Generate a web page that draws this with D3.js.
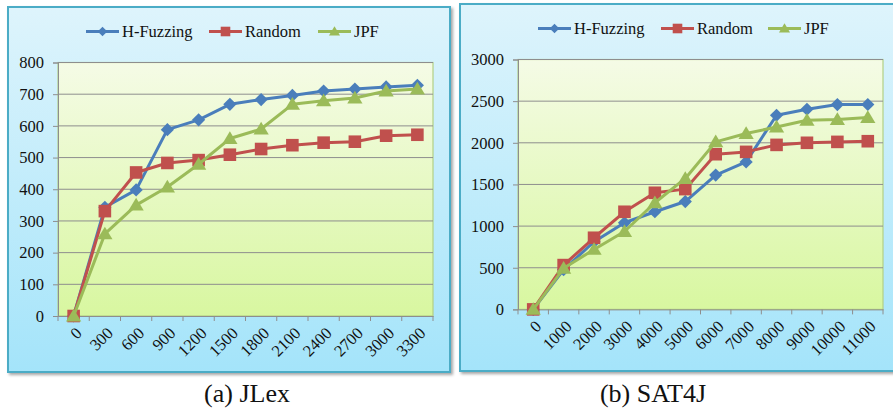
<!DOCTYPE html>
<html>
<head>
<meta charset="utf-8">
<script src="https://cdn.jsdelivr.net/npm/d3@7"></script>
<style>
  html, body { margin: 0; padding: 0; background: #fff; }
  svg { display: block; }
</style>
</head>
<body>
<script>
// (a) JLex
const jlexCats = ["0", "300", "600", "900", "1200", "1500", "1800", "2100", "2400", "2700", "3000", "3300"];
const jlexHFuzzing = [0, 343, 398, 588, 619, 668, 683, 696, 710, 716, 723, 728];
const jlexRandom = [0, 331, 453, 483, 492, 509, 527, 539, 547, 550, 569, 572];
const jlexJPF = [0, 259, 350, 407, 479, 560, 590, 668, 679, 688, 710, 716];
const jlexTicks = [0, 100, 200, 300, 400, 500, 600, 700, 800];

// (b) SAT4J
const satCats = ["0", "1000", "2000", "3000", "4000", "5000", "6000", "7000", "8000", "9000", "10000", "11000"];
const satHFuzzing = [0, 478, 812, 1040, 1172, 1295, 1612, 1771, 2331, 2403, 2459, 2460];
const satRandom = [0, 532, 860, 1172, 1400, 1444, 1863, 1891, 1975, 2000, 2011, 2019];
const satJPF = [0, 493, 720, 935, 1280, 1572, 2011, 2111, 2190, 2271, 2279, 2303];
const satTicks = [0, 500, 1000, 1500, 2000, 2500, 3000];

const seriesNames = ["H-Fuzzing", "Random", "JPF"];
const seriesColors = ["#4a7ebb", "#c0504d", "#9bbb59"];
const seriesMarkers = ["diamond", "square", "triangle"];

const W = 893, H = 412;
const font = "'Liberation Serif', 'Times New Roman', serif";

const svg = d3.select("body").append("svg").attr("width", W).attr("height", H);
const defs = svg.append("defs");

const bgGrad = defs.append("linearGradient").attr("id", "panelBg")
  .attr("x1", 0).attr("y1", 0).attr("x2", 0).attr("y2", 1);
bgGrad.append("stop").attr("offset", "0%").attr("stop-color", "#def4fc");
bgGrad.append("stop").attr("offset", "100%").attr("stop-color", "#a4e4fa");

const plotGrad = defs.append("linearGradient").attr("id", "plotBg")
  .attr("x1", 0).attr("y1", 0).attr("x2", 0).attr("y2", 1);
plotGrad.append("stop").attr("offset", "0%").attr("stop-color", "#f5fbe6");
plotGrad.append("stop").attr("offset", "100%").attr("stop-color", "#d8f7a0");

const shadow = defs.append("filter").attr("id", "shadow")
  .attr("x", "-5%").attr("y", "-5%").attr("width", "110%").attr("height", "110%");
shadow.append("feDropShadow").attr("dx", 2).attr("dy", 2).attr("stdDeviation", 1.5)
  .attr("flood-color", "#000").attr("flood-opacity", 0.35);

const markerPath = (type, s) => {
  if (type === "diamond") return `M0,${-s}L${s},0L0,${s}L${-s},0Z`;
  if (type === "square") return `M${-s},${-s}H${s}V${s}H${-s}Z`;
  const h = s * 1.1;
  return `M0,${-h}L${h * 1.05},${h * 0.75}L${-h * 1.05},${h * 0.75}Z`;
};

function drawPanel(p) {
  const g = svg.append("g");

  g.append("rect")
    .attr("x", p.box[0]).attr("y", p.box[1])
    .attr("width", p.box[2]).attr("height", p.box[3])
    .attr("fill", "url(#panelBg)")
    .attr("stroke", "#4bacc6").attr("stroke-width", 2)
    .attr("filter", "url(#shadow)");

  const x = d3.scaleBand().domain(p.cats).range([p.plot[0], p.plot[1]]);
  const y = d3.scaleLinear().domain([0, p.yMax]).range([p.plot[3], p.plot[2]]);

  g.append("rect")
    .attr("x", p.plot[0]).attr("y", p.plot[2])
    .attr("width", p.plot[1] - p.plot[0]).attr("height", p.plot[3] - p.plot[2])
    .attr("fill", "url(#plotBg)")
    .attr("stroke", "#b3d186").attr("stroke-width", 1.2);

  // gridlines
  g.append("g").selectAll("line")
    .data(p.ticks.filter(t => t > 0))
    .join("line")
    .attr("x1", p.plot[0]).attr("x2", p.plot[1])
    .attr("y1", d => y(d)).attr("y2", d => y(d))
    .attr("stroke", "#8e8e8e").attr("stroke-width", 1);

  // y axis
  const yAxis = g.append("g")
    .attr("transform", `translate(${p.plot[0]},0)`)
    .call(d3.axisLeft(y).tickValues(p.ticks).tickSize(5).tickPadding(9).tickFormat(d3.format("d")));
  yAxis.select(".domain").attr("stroke", "#8e8e8e");
  yAxis.selectAll(".tick line").attr("stroke", "#8e8e8e");
  yAxis.selectAll("text").attr("font-family", font).attr("font-size", 16.5).attr("fill", "#111");

  // x axis: ticks on band boundaries
  const xAxis = g.append("g")
    .attr("transform", `translate(0,${p.plot[3]})`)
    .call(d3.axisBottom(x).tickSize(0).tickFormat(""));
  xAxis.select(".domain").attr("stroke", "#8e8e8e");
  xAxis.selectAll(".tick").remove();
  const bounds = p.cats.map(c => x(c)).concat([p.plot[1]]);
  xAxis.selectAll("line.bt").data(bounds).join("line")
    .attr("class", "bt")
    .attr("x1", d => d).attr("x2", d => d)
    .attr("y1", 0).attr("y2", 5)
    .attr("stroke", "#8e8e8e");
  xAxis.selectAll("text.lbl").data(p.cats).join("text")
    .attr("class", "lbl")
    .attr("transform", d => `translate(${x(d) + x.bandwidth() / 2 + 5},${14}) rotate(-45)`)
    .attr("text-anchor", "end")
    .attr("dy", "0.35em")
    .attr("font-family", font).attr("font-size", 16.5).attr("fill", "#111")
    .text(d => d);

  const line = d3.line()
    .x((d, i) => x(p.cats[i]) + x.bandwidth() / 2)
    .y(d => y(d));

  p.series.forEach((vals, si) => {
    const sg = g.append("g");
    sg.append("path")
      .attr("d", line(vals))
      .attr("fill", "none")
      .attr("stroke", seriesColors[si])
      .attr("stroke-width", 3)
      .attr("stroke-linejoin", "round");
    sg.selectAll("path.m").data(vals).join("path")
      .attr("class", "m")
      .attr("transform", (d, i) => `translate(${x(p.cats[i]) + x.bandwidth() / 2},${y(d)})`)
      .attr("d", markerPath(seriesMarkers[si], seriesMarkers[si] === "square" ? 6.3 : 6.6))
      .attr("fill", seriesColors[si]);
  });

  // legend
  const lg = g.append("g");
  p.legendX.forEach((lx, si) => {
    lg.append("line")
      .attr("x1", lx).attr("x2", lx + 33)
      .attr("y1", p.legendY).attr("y2", p.legendY)
      .attr("stroke", seriesColors[si]).attr("stroke-width", 3);
    lg.append("path")
      .attr("transform", `translate(${lx + 16.5},${p.legendY})`)
      .attr("d", markerPath(seriesMarkers[si], 4.8))
      .attr("fill", seriesColors[si]);
    lg.append("text")
      .attr("x", lx + 36).attr("y", p.legendY + 5.5)
      .attr("font-family", font).attr("font-size", 16.5).attr("fill", "#111")
      .text(seriesNames[si]);
  });

  // caption
  svg.append("text")
    .attr("x", p.captionX).attr("y", 402)
    .attr("text-anchor", "middle")
    .attr("font-family", font).attr("font-size", 26).attr("fill", "#111")
    .text(p.caption);
}

drawPanel({
  box: [8, 7, 442, 365],
  plot: [58, 433, 62.5, 316],
  cats: jlexCats,
  yMax: 800,
  ticks: jlexTicks,
  series: [jlexHFuzzing, jlexRandom, jlexJPF],
  legendX: [86, 209, 318],
  legendY: 31.5,
  caption: "(a) JLex",
  captionX: 247
});

drawPanel({
  box: [460, 4, 440, 367],
  plot: [518, 883, 59.5, 309.4],
  cats: satCats,
  yMax: 3000,
  ticks: satTicks,
  series: [satHFuzzing, satRandom, satJPF],
  legendX: [538, 661, 768],
  legendY: 28.5,
  caption: "(b) SAT4J",
  captionX: 653
});
</script>
</body>
</html>
